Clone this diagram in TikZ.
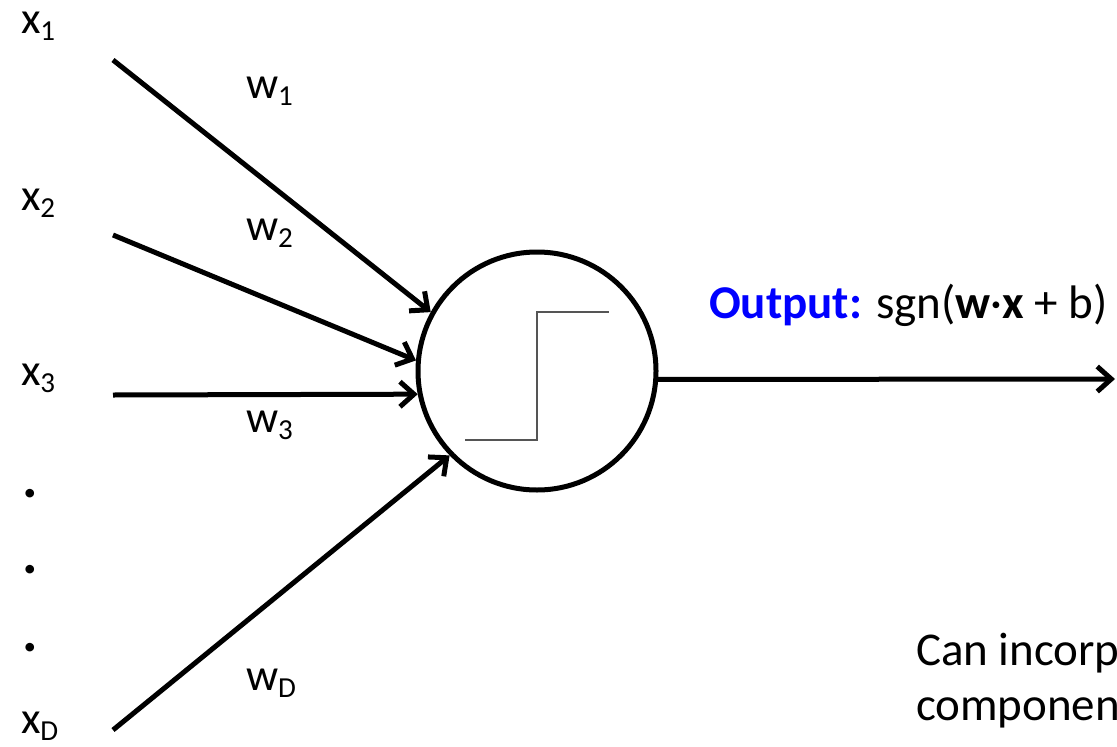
\documentclass[tikz,border=0pt]{standalone}
\usepackage{fontspec}
\setmainfont{Carlito}
\usetikzlibrary{arrows.meta}
\definecolor{outblue}{RGB}{0,0,255}
\definecolor{stepgray}{RGB}{85,85,85}
\newcommand\lbl[2]{#1\raisebox{-7pt}{\fontsize{29}{34}\selectfont #2}}
\tikzset{
  lab/.style={anchor=base west, inner sep=0pt, outer sep=0pt, font=\fontsize{45}{52}\selectfont},
  dotlab/.style={anchor=base west, inner sep=0pt, outer sep=0pt, font=\fontsize{58}{60}\selectfont\bfseries},
  big/.style={anchor=base west, inner sep=0pt, outer sep=0pt, font=\fontsize{47}{55}\selectfont},
  conn/.style={line width=5pt, -{Straight Barb[length=14pt,width=25pt,line width=5pt]}},
  neuron/.style={circle, draw, line width=5pt, minimum size=238pt, inner sep=0pt},
  stepfn/.style={line width=2pt, draw=stepgray}
}
\begin{document}
\begin{tikzpicture}[x=1pt,y=-1pt]
\useasboundingbox (0,0) rectangle (1117,747);
% neuron
\node[neuron] (c) at (537,371) {};
\draw[stepfn] (465,440) -| (537,312) -- (609,312);
% input start points
\coordinate (s1) at (113,60);
\coordinate (s2) at (113,235);
\coordinate (s3) at (113,395);
\coordinate (sD) at (113,730);
\coordinate (oe) at (1115,379);
% connectors
\draw[conn] (s1) -- (c.151);
\draw[conn] (s2) -- (c.175.8);
\draw[conn] (s3) -- (c.191.2);
\draw[conn] (sD) -- (c.224.7);
\draw[conn] (c.-4) -- (oe);
% input labels
\node[lab] (x1) at (21,33) {\lbl{x}{1}};
\node[lab] (x2) at (21,210) {\lbl{x}{2}};
\node[lab] (x3) at (21,385) {\lbl{x}{3}};
\node[lab] (xD) at (21,733) {\lbl{x}{D}};
\node[dotlab] (d1) at (23,497) {.};
\node[dotlab] (d2) at (23,573) {.};
\node[dotlab] (d3) at (23,651) {.};
% weights
\node[lab] (w1) at (246,98) {\lbl{w}{1}};
\node[lab] (w2) at (246,240) {\lbl{w}{2}};
\node[lab] (w3) at (246,432) {\lbl{w}{3}};
\node[lab] (wD) at (246,690) {\lbl{w}{D}};
% output
\node[big] (out) at (709,318) {\textcolor{outblue}{\textbf{Output:}} sgn(\textbf{w}·\textbf{x} + b)};
% note
\node[big] (n1) at (916,665) {Can incorp};
\node[big] (n2) at (916,720) {componen};
\end{tikzpicture}
\end{document}
